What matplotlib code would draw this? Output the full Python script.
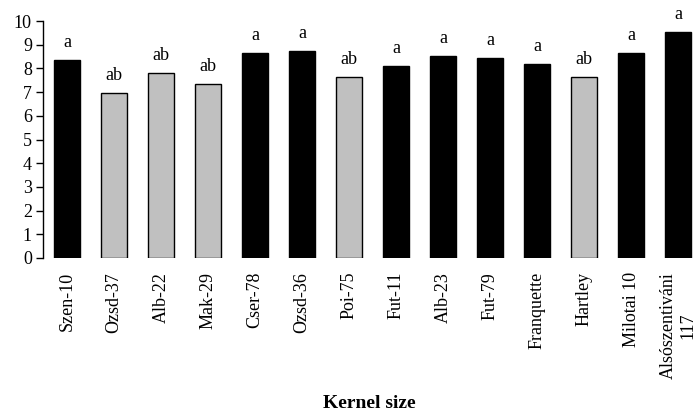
import matplotlib.pyplot as plt

plt.rcParams['font.family'] = ['Liberation Serif', 'DejaVu Serif']

cultivars = ["Szen-10", "Ozsd-37", "Alb-22", "Mak-29", "Cser-78", "Ozsd-36",
             "Poi-75", "Fut-11", "Alb-23", "Fut-79", "Franquette", "Hartley",
             "Milotai 10", "Alsószentiváni\n117"]
kernel_size = [8.36, 6.97, 7.80, 7.35, 8.64, 8.72, 7.65, 8.10, 8.52, 8.45,
               8.18, 7.65, 8.64, 9.52]
groups = ["a", "ab", "ab", "ab", "a", "a", "ab", "a", "a", "a", "a", "ab",
          "a", "a"]

colors = ["black" if g == "a" else "#c0c0c0" for g in groups]

fig = plt.figure(figsize=(6.96, 4.12), dpi=100)
ax = fig.add_axes([43 / 696, 1 - 258 / 412, 1 - 43 / 696, (258 - 21) / 412])

x = list(range(len(cultivars)))
ax.bar(x, kernel_size, width=0.55, color=colors, edgecolor="black",
       linewidth=1.0)

for xi, v, g in zip(x, kernel_size, groups):
    ax.annotate(g, (xi, v), xytext=(0, 9.5), textcoords="offset points",
                ha="center", va="baseline", fontsize=13)

ax.set_ylim(0, 10)
ax.set_xlim(-0.51, 13.38)
ax.set_yticks(range(0, 11))
ax.set_xticks(x)
ax.set_xticklabels(cultivars, rotation=90, fontsize=13, va="top",
                   ha="center", multialignment="center")
ax.tick_params(axis="y", direction="out", length=5, width=1, pad=3,
               labelsize=13)
ax.tick_params(axis="x", length=0, pad=10)

for side in ["top", "right", "bottom"]:
    ax.spines[side].set_visible(False)
ax.spines["left"].set_linewidth(1)

fig.text((43 + 696) / 2 / 696, 1 - 403 / 412, "Kernel size", ha="center",
         va="center", fontsize=14, fontweight="bold")

fig.savefig("out.png", dpi=100)
